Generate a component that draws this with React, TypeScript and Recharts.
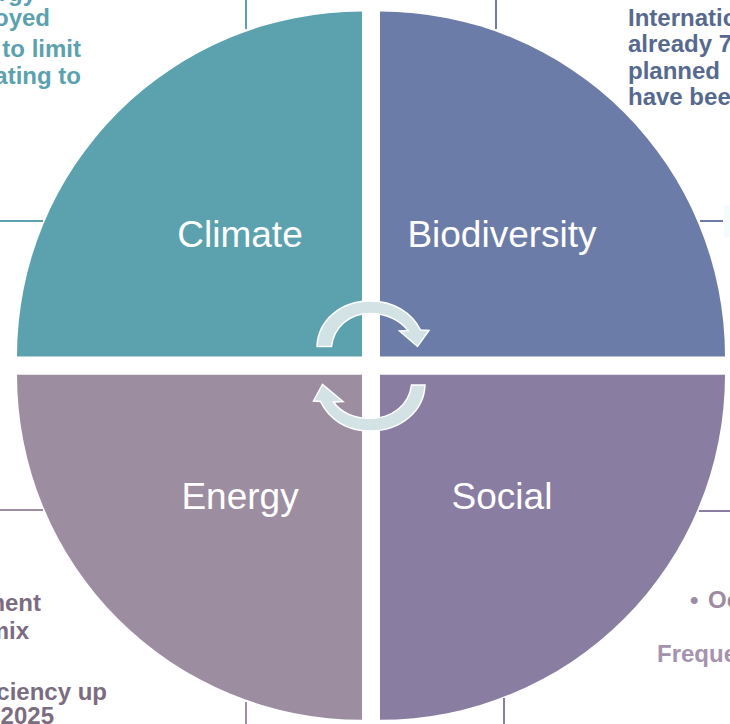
import React from "react";
import { PieChart, Pie, Customized } from "recharts";

// Four equal themes, one quarter circle each
const themes = ["Climate", "Biodiversity", "Energy", "Social"];
const shares = [25, 25, 25, 25];
const colors = ["#5ba1ae", "#6c7ca8", "#9c8ea0", "#8a7da2"];
const startAngles = [90, 0, 180, 270];
const centers = [
  [362, 356.5],
  [380, 356.5],
  [362, 374.8],
  [380, 374.8],
];
const RADIUS = 345;

// Clipped call-out copy around the wheel
const notes = [
  { text: "energy", x: 36, y: 1, anchor: "end", fill: "#5ba1ae" },
  { text: "deployed", x: 50, y: 26, anchor: "end", fill: "#5ba1ae" },
  { text: "to limit", x: 81, y: 57, anchor: "end", fill: "#5ba1ae" },
  { text: "heating to", x: 81, y: 84, anchor: "end", fill: "#5ba1ae" },
  { text: "International", x: 628, y: 26, anchor: "start", fill: "#566a8f" },
  { text: "already 7", x: 628, y: 52, anchor: "start", fill: "#566a8f" },
  { text: "planned", x: 628, y: 79, anchor: "start", fill: "#566a8f" },
  { text: "have been", x: 628, y: 105, anchor: "start", fill: "#566a8f" },
  { text: "ment", x: 41, y: 611, anchor: "end", fill: "#7b6c80" },
  { text: "mix", x: 29, y: 639, anchor: "end", fill: "#7b6c80" },
  { text: "efficiency up", x: 107, y: 700, anchor: "end", fill: "#7b6c80" },
  { text: "2025", x: 54, y: 724, anchor: "end", fill: "#7b6c80" },
  { text: "•", x: 690, y: 608, anchor: "start", fill: "#9d8ba5" },
  { text: "Oc", x: 708, y: 608, anchor: "start", fill: "#9d8ba5" },
  { text: "Frequent", x: 657, y: 662, anchor: "start", fill: "#a593ad" },
];

const leaders = [
  { x1: 246, y1: 0, x2: 246, y2: 29, stroke: "#5ba1ae" },
  { x1: 0, y1: 221, x2: 43, y2: 221, stroke: "#5ba1ae" },
  { x1: 496, y1: 0, x2: 496, y2: 29, stroke: "#6c7ca8" },
  { x1: 700, y1: 221, x2: 723, y2: 221, stroke: "#6c7ca8" },
  { x1: 0, y1: 510, x2: 43, y2: 510, stroke: "#9c8ea0" },
  { x1: 246, y1: 702, x2: 246, y2: 724, stroke: "#9c8ea0" },
  { x1: 699, y1: 511, x2: 730, y2: 511, stroke: "#8a7da2" },
  { x1: 504, y1: 698, x2: 504, y2: 724, stroke: "#8a7da2" },
];

// The two curved arrows sit on their own layer above the wedges
const CycleArrows = () => (
  <svg
    width={730}
    height={724}
    style={{ position: "absolute", left: 0, top: 0, pointerEvents: "none" }}
  >
    <g fill="#d3e3e5" stroke="#ffffff" strokeWidth={1.5}>
      <path d="M317 346.5 C318 320 341 301 370 301 C394 301 412 313 420.5 330 L429 330.5 L417.5 346.5 L399.5 331 L408 330.5 C400 320 386 313.5 370 313.5 C349 313.5 334 327 331.5 346.5 Z" />
      <path d="M425 385 C424 411 401 431 370 431 C346 431 329 419 320.5 401.5 L313.5 401 L322.5 384.5 L343 401.5 L333.5 402 C341 413 355 418.5 370 418.5 C392 418.5 409 405 411.5 385 Z" />
    </g>
  </svg>
);

const Callouts = () => (
  <g fontFamily="Liberation Sans" fontWeight={700} fontSize={24}>
    <rect x={724} y={205} width={6} height={32} fill="#f3fbfc" />
    {leaders.map((l, i) => (
      <line key={i} x1={l.x1} y1={l.y1} x2={l.x2} y2={l.y2} stroke={l.stroke} strokeWidth={2} />
    ))}
    {notes.map((n, i) => (
      <text key={i} x={n.x} y={n.y} textAnchor={n.anchor} fill={n.fill}>
        {n.text}
      </text>
    ))}
  </g>
);

const quarterLabel = (name: string) => (p: any) => {
  const a = (p.midAngle * Math.PI) / 180;
  return (
    <text
      x={p.cx + (p.outerRadius / 2) * Math.cos(a)}
      y={p.cy - (p.outerRadius / 2) * Math.sin(a)}
      fill="#ffffff"
      fontFamily="Liberation Sans"
      fontSize={37}
      textAnchor="middle"
      dominantBaseline="central"
    >
      {name}
    </text>
  );
};

export default function App() {
  return (
    <div style={{ position: "absolute", left: 0, top: 0, width: 730, height: 724 }}>
      <PieChart width={730} height={724} margin={{ top: 0, right: 0, bottom: 0, left: 0 }}>
        <Customized component={Callouts} />
        {themes.map((name, i) => (
          <Pie
            key={name}
            data={[{ name, value: shares[i] }]}
            dataKey="value"
            cx={centers[i][0]}
            cy={centers[i][1]}
            innerRadius={0}
            outerRadius={RADIUS}
            startAngle={startAngles[i]}
            endAngle={startAngles[i] + 90}
            fill={colors[i]}
            stroke="none"
            label={quarterLabel(name)}
            labelLine={false}
            isAnimationActive={false}
          />
        ))}
      </PieChart>
      <CycleArrows />
    </div>
  );
}
